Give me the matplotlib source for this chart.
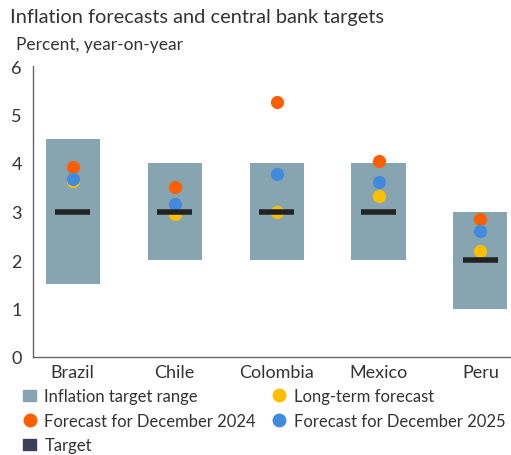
import matplotlib.pyplot as plt
from matplotlib.patches import Patch
from matplotlib.lines import Line2D

plt.rcParams['font.family'] = ['Lato', 'DejaVu Sans']

countries = ['Brazil', 'Chile', 'Colombia', 'Mexico', 'Peru']
range_low = [1.5, 2.0, 2.0, 2.0, 1.0]
range_high = [4.5, 4.0, 4.0, 4.0, 3.0]
target = [3.0, 3.0, 3.0, 3.0, 2.0]
fc_2024 = [3.92, 3.51, 5.25, 4.04, 2.84]
fc_2025 = [3.68, 3.15, 3.77, 3.61, 2.59]
long_term = [3.63, 2.94, 3.0, 3.31, 2.19]

box_col = '#87a5b1'
orange = '#ff5f00'
blue = '#418ade'
yellow = '#fbbf00'
txt = '#333333'

fig = plt.figure(figsize=(5.11, 4.56), dpi=100)
ax = fig.add_axes([33 / 511, 1 - 358 / 456, 478 / 511, 291 / 456])

x = list(range(len(countries)))
ax.bar(x, [h - l for h, l in zip(range_high, range_low)], bottom=range_low,
       width=0.53, color=box_col, zorder=1)
ax.plot(x, fc_2024, 'o', color=orange, ms=9.5, mec='none', zorder=2)
ax.plot(x, long_term, 'o', color=yellow, ms=9.5, mec='none', zorder=3)
ax.plot(x, fc_2025, 'o', color=blue, ms=9.5, mec='none', zorder=4)
ax.hlines(target, [i - 0.173 for i in x], [i + 0.173 for i in x],
          color='#222222', lw=4, zorder=5)

ax.set_xlim(-0.39, 4.30)
ax.set_ylim(0, 6)
ax.set_yticks(range(0, 7))
ax.set_xticks(x)
ax.set_xticklabels(countries)
ax.tick_params(length=0, labelsize=13, colors=txt)
ax.tick_params(axis='y', pad=8)
ax.tick_params(axis='x', pad=5)
for s in ['top', 'right']:
    ax.spines[s].set_visible(False)
for s in ['left', 'bottom']:
    ax.spines[s].set_color('#666666')
    ax.spines[s].set_linewidth(1)

fig.text(10 / 511, 1 - 17 / 456, 'Inflation forecasts and central bank targets',
         fontsize=14.4, color=txt, va='center', ha='left')
fig.text(16 / 511, 1 - 45 / 456, 'Percent, year-on-year',
         fontsize=12.5, color=txt, va='center', ha='left')

handles = [
    Patch(color=box_col, label='Inflation target range'),
    Line2D([], [], marker='o', ls='none', color=orange, mec='none', ms=10,
           label='Forecast for December 2024'),
    Patch(color='#3b3f58', label='Target'),
    Line2D([], [], marker='o', ls='none', color=yellow, mec='none', ms=10,
           label='Long-term forecast'),
    Line2D([], [], marker='o', ls='none', color=blue, mec='none', ms=10,
           label='Forecast for December 2025'),
]
leg = fig.legend(handles=handles, ncol=2, loc='upper left',
                 bbox_to_anchor=(23 / 511, 1 - 389 / 456), frameon=False,
                 fontsize=12, handlelength=0.78, handleheight=0.62,
                 handletextpad=0.5, columnspacing=1.0, labelspacing=0.52,
                 borderpad=0, borderaxespad=0)
for t in leg.get_texts():
    t.set_color(txt)

fig.savefig('out.png', dpi=100)
